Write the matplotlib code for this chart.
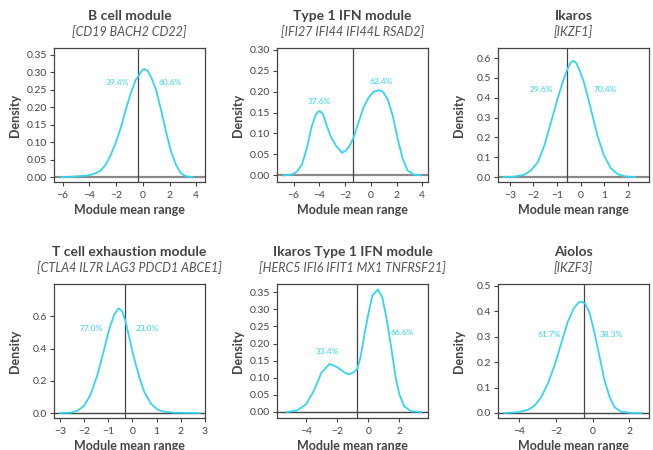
import matplotlib.pyplot as plt

plt.rcParams['font.family'] = ['Lato', 'DejaVu Sans']

# panel text
titles = ['B cell module', 'Type 1 IFN module', 'Ikaros',
          'T cell exhaustion module', 'Ikaros Type 1 IFN module', 'Aiolos']
genes = ['[CD19 BACH2 CD22]', '[IFI27 IFI44 IFI44L RSAD2]', '[IKZF1]',
         '[CTLA4 IL7R LAG3 PDCD1 ABCE1]', '[HERC5 IFI6 IFIT1 MX1 TNFRSF21]', '[IKZF3]']

# density curves
bcell_x = [-6.15, -5.2, -4.2, -3.7, -3.2, -2.8, -2.4, -2.0, -1.66, -1.28, -0.9, -0.53, -0.33,
           -0.1, 0.1, 0.35, 0.65, 0.98, 1.36, 1.73, 2.11, 2.49, 2.86, 3.24, 3.74]
bcell_y = [0.0, 0.002, 0.005, 0.009, 0.018, 0.035, 0.064, 0.102, 0.141, 0.193, 0.241, 0.279, 0.289,
           0.305, 0.31, 0.305, 0.284, 0.251, 0.193, 0.131, 0.074, 0.035, 0.011, 0.003, 0.0]

ifn_x = [-6.79, -6.14, -5.75, -5.36, -4.97, -4.59, -4.25, -3.99, -3.73, -3.42, -3.08, -2.69, -2.25,
         -1.99, -1.66, -1.35, -0.96, -0.57, -0.18, 0.21, 0.6, 0.93, 1.32, 1.71, 2.07, 2.46, 2.85,
         3.32, 3.89]
ifn_y = [0.0, 0.002, 0.009, 0.026, 0.066, 0.118, 0.147, 0.154, 0.147, 0.118, 0.09, 0.07, 0.054,
         0.058, 0.07, 0.09, 0.126, 0.162, 0.185, 0.2, 0.203, 0.2, 0.181, 0.142, 0.09, 0.042, 0.012,
         0.002, 0.0]

ikaros_x = [-3.26, -2.8, -2.38, -2.1, -1.81, -1.53, -1.25, -0.97, -0.75, -0.57, -0.43, -0.32, -0.19,
            -0.05, 0.13, 0.31, 0.52, 0.73, 0.98, 1.27, 1.57, 1.9, 2.3]
ikaros_y = [0.0, 0.002, 0.012, 0.034, 0.076, 0.161, 0.28, 0.398, 0.483, 0.542, 0.576, 0.586, 0.576,
            0.54, 0.48, 0.40, 0.30, 0.20, 0.11, 0.045, 0.014, 0.003, 0.0]

tcell_x = [-3.0, -2.56, -2.28, -2.0, -1.72, -1.44, -1.17, -0.96, -0.75, -0.57, -0.43, -0.29, -0.13,
           0.08, 0.29, 0.5, 0.78, 1.06, 1.33, 1.75, 2.79]
tcell_y = [0.0, 0.002, 0.014, 0.045, 0.118, 0.241, 0.396, 0.52, 0.612, 0.649, 0.633, 0.571, 0.468,
           0.334, 0.221, 0.128, 0.056, 0.019, 0.008, 0.002, 0.0]

ikifn_x = [-5.23, -4.58, -4.0, -3.5, -3.0, -2.47, -2.0, -1.5, -1.25, -1.0, -0.71, -0.5, -0.24,
           0.0, 0.26, 0.62, 0.9, 1.16, 1.44, 1.76, 2.0, 2.3, 2.73, 3.38]
ikifn_y = [0.0, 0.004, 0.022, 0.061, 0.115, 0.141, 0.131, 0.115, 0.11, 0.114, 0.125, 0.159, 0.227,
           0.286, 0.34, 0.358, 0.335, 0.276, 0.198, 0.1, 0.051, 0.017, 0.002, 0.0]

aiolos_x = [-4.8, -4.07, -3.53, -3.16, -2.8, -2.44, -2.07, -1.71, -1.35, -1.02, -0.75, -0.58, -0.4,
            -0.16, 0.11, 0.38, 0.65, 0.93, 1.2, 1.56, 2.11, 2.65]
aiolos_y = [0.0, 0.003, 0.012, 0.029, 0.062, 0.115, 0.187, 0.273, 0.359, 0.412, 0.435, 0.438, 0.429,
            0.392, 0.313, 0.22, 0.128, 0.062, 0.022, 0.005, 0.0, 0.0]

curves_x = [bcell_x, ifn_x, ikaros_x, tcell_x, ikifn_x, aiolos_x]
curves_y = [bcell_y, ifn_y, ikaros_y, tcell_y, ikifn_y, aiolos_y]

# split point and the two percentages
cut = [-0.33, -1.40, -0.57, -0.29, -0.74, -0.49]
pct_left = ['39.4%', '37.6%', '29.6%', '77.0%', '33.4%', '61.7%']
pct_right = ['60.6%', '62.4%', '70.4%', '23.0%', '66.6%', '38.3%']
pct_left_xy = [(-1.91, 0.272), (-3.99, 0.177), (-1.66, 0.443), (-1.72, 0.522), (-2.6, 0.176), (-2.38, 0.309)]
pct_right_xy = [(2.06, 0.272), (0.80, 0.224), (1.03, 0.443), (0.61, 0.522), (2.19, 0.232), (1.0, 0.309)]

xticks = [[-6, -4, -2, 0, 2, 4], [-6, -4, -2, 0, 2, 4], [-3, -2, -1, 0, 1, 2],
          [-3, -2, -1, 0, 1, 2, 3], [-4, -2, 0, 2], [-4, -2, 0, 2]]
yticks = [[0, 0.05, 0.1, 0.15, 0.2, 0.25, 0.3, 0.35], [0, 0.05, 0.1, 0.15, 0.2, 0.25, 0.3],
          [0, 0.1, 0.2, 0.3, 0.4, 0.5, 0.6], [0, 0.2, 0.4, 0.6],
          [0, 0.05, 0.1, 0.15, 0.2, 0.25, 0.3, 0.35], [0, 0.1, 0.2, 0.3, 0.4, 0.5]]
yfmt = ['%.2f', '%.2f', '%.1f', '%.1f', '%.2f', '%.1f']
xlims = [(-6.65, 4.65), (-7.3, 4.45), (-3.5, 2.89), (-3.25, 3.01), (-5.85, 3.83), (-5.15, 3.07)]
ylims = [(-0.0134, 0.37), (-0.0158, 0.304), (-0.025, 0.651), (-0.031, 0.80), (-0.0176, 0.374), (-0.0197, 0.507)]

W, H = 653, 450
fig = plt.figure(figsize=(W / 100, H / 100), dpi=100)
lefts = [54, 277, 498]
tops = [48, 284]
aw, ah = 151, 134
cyan = '#36d5ee'
dark = '#444444'

for i in range(6):
    r, c = divmod(i, 3)
    ax = fig.add_axes([lefts[c] / W, 1 - (tops[r] + ah) / H, aw / W, ah / H])
    ax.plot(curves_x[i], curves_y[i], color=cyan, lw=1.3, zorder=3, solid_joinstyle='round')
    if r == 0:
        ax.axhline(0, color='#8a8a8a', lw=1.6, zorder=2)
    else:
        ax.axhline(0, color=dark, lw=1.0, zorder=2)
    ax.axvline(cut[i], color=dark, lw=0.9, zorder=2)
    ax.text(*pct_left_xy[i], pct_left[i], color=cyan, fontsize=6, ha='center', va='center')
    ax.text(*pct_right_xy[i], pct_right[i], color=cyan, fontsize=6, ha='center', va='center')
    ax.set_xlim(xlims[i])
    ax.set_ylim(ylims[i])
    ax.set_xticks(xticks[i])
    ax.set_yticks(yticks[i])
    ax.set_yticklabels([yfmt[i] % v for v in yticks[i]])
    ax.tick_params(labelsize=7.5, colors=dark, length=3, width=0.8)
    ax.tick_params(axis='x', pad=3.5)
    ax.tick_params(axis='y', pad=2)
    for s in ax.spines.values():
        s.set_color(dark)
        s.set_linewidth(0.9)
    ax.set_ylabel('Density', fontsize=9, fontweight='bold', color=dark)
    ax.set_xlabel('Module mean range', fontsize=9, fontweight='bold', color=dark)
    ax.yaxis.set_label_coords(-33 / aw, 0.5)
    ax.xaxis.set_label_coords(0.5, -21.5 / ah)
    ax.text(0.5, 1 + 32 / ah, titles[i], transform=ax.transAxes, ha='center', va='center',
            fontsize=10, fontweight='bold', color=dark)
    ax.text(0.5, 1 + 16 / ah, genes[i], transform=ax.transAxes, ha='center', va='center',
            fontsize=9, fontstyle='italic', color='#555555')

fig.savefig('out.png', dpi=100)
